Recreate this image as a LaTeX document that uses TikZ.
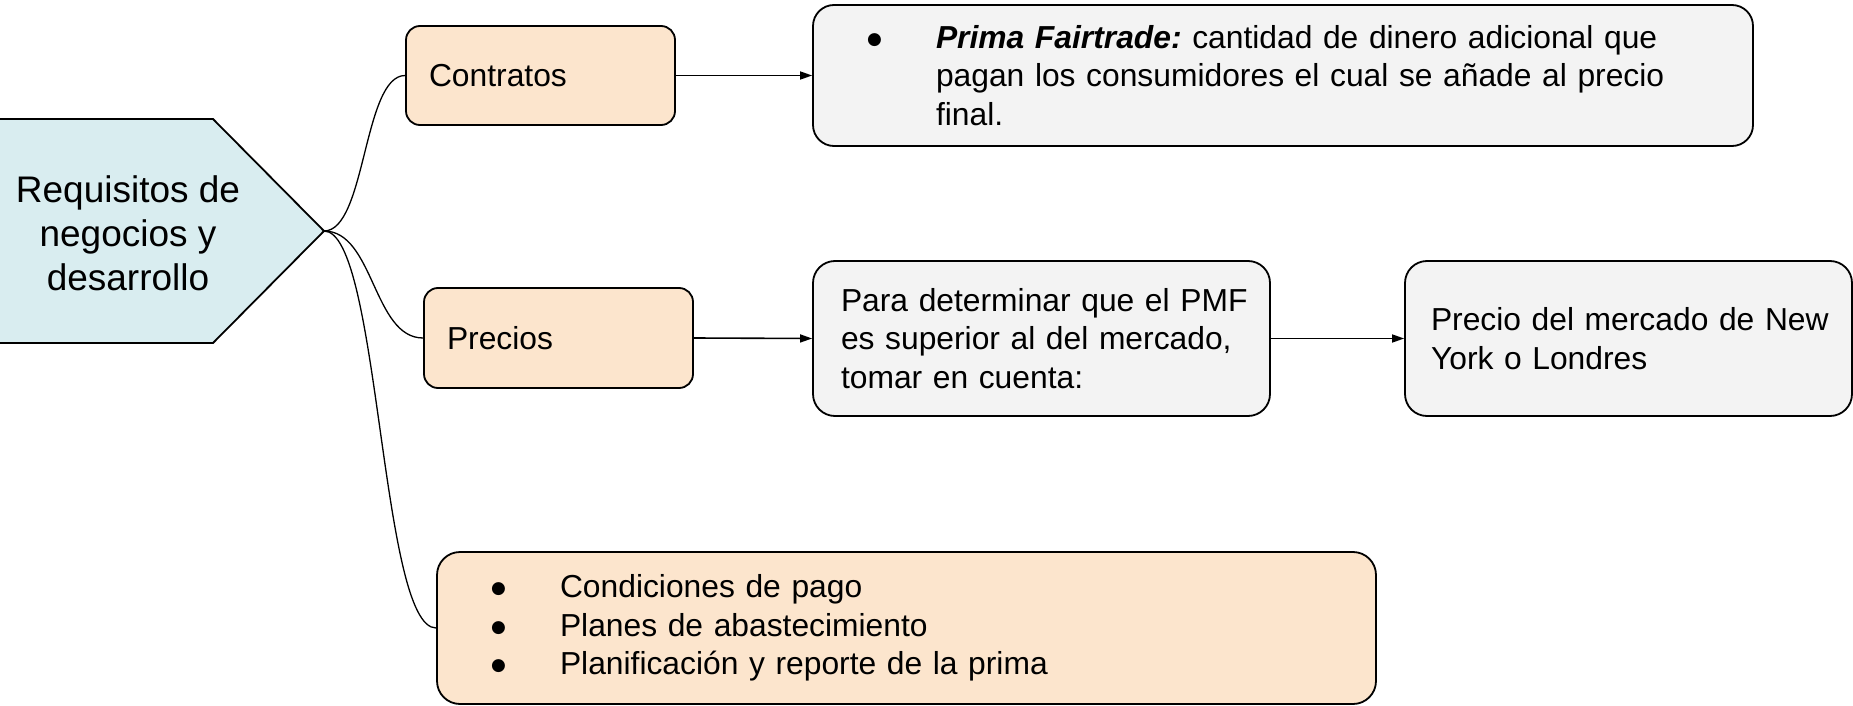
\documentclass[tikz,border=0pt]{standalone}
\usepackage{fontspec}
\setmainfont{Liberation Sans}
\newfontfamily\dejavu{DejaVu Sans}
\usetikzlibrary{arrows.meta}
\definecolor{hexfill}{HTML}{D9EDF0}
\definecolor{orangefill}{HTML}{FCE5CD}
\definecolor{grayfill}{HTML}{F3F3F3}
\newcommand{\bul}{\llap{\raisebox{4pt}{\dejavu\fontsize{17}{17}\selectfont ●}\hspace{54pt}}}
\frenchspacing
\begin{document}
\begin{tikzpicture}[x=1pt,y=-1pt,
  boxbase/.style={draw=black, line width=1.8pt, inner sep=0pt, align=left,
    font=\fontsize{31.8}{38.5}\selectfont},
  obox/.style={boxbase, fill=orangefill},
  gbox/.style={boxbase, fill=grayfill},
  hexstyle/.style={draw=black, line width=1.8pt, fill=hexfill},
  conn/.style={draw=black, line width=1.3pt},
  arr/.style={draw=black, line width=1.6pt, -{Triangle[length=12pt,width=8pt]}}]
\useasboundingbox (0,0) rectangle (1853,706);
% central shape
\draw[hexstyle] (-10,119) -- (213,119) -- (324,231) -- (213,343) -- (-10,343) -- cycle;
\node[align=center, inner sep=0pt, font=\fontsize{37}{44}\selectfont] (req) at (128,233)
  {Requisitos de\\negocios y\\desarrollo};
\coordinate (tip) at (324,231);
% boxes
\node[obox, rounded corners=14pt, minimum width=269pt, minimum height=99pt, text width=223pt]
  (contratos) at (540.5,75.5) {Contratos};
\node[obox, rounded corners=14pt, minimum width=269pt, minimum height=100pt, text width=223pt]
  (precios) at (558.5,338) {Precios};
\node[gbox, rounded corners=21pt, minimum width=940pt, minimum height=141pt, text width=694pt]
  (fair) at (1283,75.5)
  {\mbox{\bul\textbf{\textit{Prima Fairtrade:}} cantidad de dinero adicional que}\\
   \mbox{pagan los consumidores el cual se añade al precio}\\
   final.};
\node[gbox, rounded corners=22pt, minimum width=457pt, minimum height=155pt, text width=401pt]
  (pmf) at (1041.5,338.5)
  {\mbox{Para determinar que el PMF}\\\mbox{es superior al del mercado,}\\\mbox{tomar en cuenta:}};
\node[gbox, rounded corners=22pt, minimum width=447pt, minimum height=155pt, text width=395pt]
  (ny) at (1628.5,338.5)
  {\mbox{Precio del mercado de New}\\\mbox{York o Londres}};
\node[obox, rounded corners=23pt, minimum width=939pt, minimum height=152pt, text width=693pt]
  (cond) at (906.5,628)
  {\mbox{\bul Condiciones de pago}\\
   \mbox{\bul Planes de abastecimiento}\\
   \mbox{\bul Planificación y reporte de la prima}};
% connectors
\draw[conn] (tip) .. controls +(42,0) and +(-42,0) .. (contratos.west);
\draw[conn] (tip) .. controls +(50,0) and +(-50,0) .. (precios.west);
\draw[conn] (tip) .. controls +(56,0) and +(-56,0) .. (cond.west);
\draw[arr] (contratos.east) -- (fair.west);
\draw[arr] (precios.east) -- (pmf.west);
\draw[arr] (pmf.east) -- (ny.west);
\end{tikzpicture}
\end{document}
